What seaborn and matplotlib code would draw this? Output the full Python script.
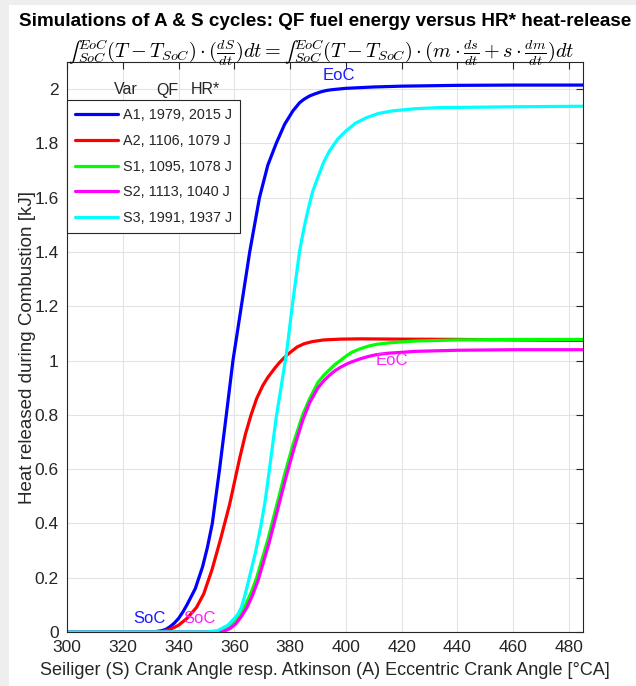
import numpy as np
import pandas as pd
import matplotlib
matplotlib.use("Agg")
import matplotlib.pyplot as plt
from matplotlib.patches import Rectangle
import seaborn as sns

# ---------------- data ----------------
series_names = ["A1, 1979, 2015 J", "A2, 1106, 1079 J", "S1, 1095, 1078 J",
                "S2, 1113, 1040 J", "S3, 1991, 1937 J"]
series_colors = ["#0000ff", "#ff0000", "#00ff00", "#ff00ff", "#00ffff"]

x_a1 = [300, 330, 331.5, 334, 335.5, 337, 338.5, 340, 341.5, 343, 344.5, 346, 347.3, 348.6,
        350.3, 352.1, 354.7, 357, 359.5, 362.5, 365.5, 369, 372, 375, 378, 381, 383.4, 385,
        387, 389, 391, 393, 395, 400, 410, 420, 440, 460, 485]
y_a1 = [0, 0, 0.001, 0.005, 0.01, 0.02, 0.033, 0.05, 0.073, 0.1, 0.13, 0.16, 0.2, 0.24,
        0.31, 0.4, 0.6, 0.79, 1.0, 1.2, 1.4, 1.6, 1.72, 1.8, 1.87, 1.92, 1.95, 1.963,
        1.975, 1.983, 1.99, 1.995, 1.998, 2.003, 2.008, 2.011, 2.014, 2.015, 2.015]

x_a2 = [300, 332, 334, 337, 338.5, 340, 343, 346.4, 349, 352, 355, 358.3, 361.9, 364, 366,
        368, 370.2, 372, 374.5, 376.2, 378.6, 380.5, 382.5, 385, 388, 392, 398, 405, 420,
        440, 460, 485]
y_a2 = [0, 0, 0.002, 0.01, 0.017, 0.025, 0.05, 0.09, 0.14, 0.23, 0.34, 0.47, 0.64, 0.73, 0.8,
        0.86, 0.908, 0.938, 0.972, 0.993, 1.018, 1.034, 1.05, 1.062, 1.07, 1.076, 1.079, 1.08,
        1.079, 1.078, 1.076, 1.074]

x_s1 = [300, 352, 356, 358, 360, 362, 364, 366, 368, 372, 375, 378, 381, 384.5, 387, 390,
        392, 394, 396, 398, 400, 402, 405, 408, 411, 415, 425, 440, 460, 485]
y_s1 = [0, 0, 0.005, 0.015, 0.035, 0.062, 0.1, 0.145, 0.2, 0.34, 0.46, 0.58, 0.69, 0.8,
        0.86, 0.92, 0.945, 0.965, 0.985, 1.0, 1.016, 1.03, 1.043, 1.053, 1.06, 1.065, 1.072,
        1.076, 1.078, 1.078]

x_s2 = [300, 352.5, 356.5, 358.5, 360.5, 362.5, 364.5, 366.5, 368.5, 372.5, 375.5, 378.5,
        381.5, 384.5, 387, 390, 392, 394, 396, 398, 400, 402, 405, 408, 411, 415, 425, 440,
        460, 485]
y_s2 = [0, 0, 0.004, 0.013, 0.03, 0.057, 0.09, 0.135, 0.19, 0.33, 0.45, 0.57, 0.68, 0.78,
        0.845, 0.9, 0.925, 0.945, 0.962, 0.975, 0.986, 0.995, 1.006, 1.015, 1.022, 1.027,
        1.034, 1.038, 1.04, 1.04]

x_s3 = [300, 350, 354, 357.7, 360, 361.3, 362.5, 363.8, 365, 366.3, 367.5, 369.5, 371, 372.2,
        375, 378.6, 381, 383.4, 385, 386.3, 388, 389.9, 392, 394.1, 397, 400, 403.5, 407.2,
        411.5, 416.7, 425, 433.5, 460, 485]
y_s3 = [0, 0, 0.005, 0.025, 0.05, 0.066, 0.09, 0.135, 0.185, 0.24, 0.29, 0.39, 0.48, 0.57,
        0.79, 1.02, 1.22, 1.404, 1.49, 1.55, 1.62, 1.674, 1.73, 1.772, 1.815, 1.846, 1.875,
        1.894, 1.91, 1.92, 1.928, 1.932, 1.935, 1.937]

x_ticks = [300, 320, 340, 360, 380, 400, 420, 440, 460, 480]
y_ticks = [0, 0.2, 0.4, 0.6, 0.8, 1, 1.2, 1.4, 1.6, 1.8, 2]
y_ticklabels = ["0", "0.2", "0.4", "0.6", "0.8", "1", "1.2", "1.4", "1.6", "1.8", "2"]

xs = [x_a1, x_a2, x_s1, x_s2, x_s3]
ys = [y_a1, y_a2, y_s1, y_s2, y_s3]
df = pd.concat([pd.DataFrame({"x": x, "y": y, "var": n})
                for x, y, n in zip(xs, ys, series_names)], ignore_index=True)

# ---------------- style ----------------
sns.set_style("whitegrid")
plt.rcParams['font.family'] = ['Liberation Sans', 'DejaVu Sans']
plt.rcParams['mathtext.fontset'] = 'cm'

W, H = 636, 686
fig = plt.figure(figsize=(W / 100, H / 100), dpi=100)
fig.patch.set_facecolor("#eeeeee")
fig.patches.append(Rectangle((9 / W, 0), 1, 1 - 5 / H, transform=fig.transFigure,
                             facecolor="white", edgecolor="none", zorder=-10))
ax_l, ax_r, ax_t, ax_b = 67, 583, 62, 632
ax = fig.add_axes([ax_l / W, 1 - ax_b / H, (ax_r - ax_l) / W, (ax_b - ax_t) / H])

sns.lineplot(data=df, x="x", y="y", hue="var", palette=series_colors,
             linewidth=2.3, ax=ax, estimator=None, sort=False, legend=True)

ax.set_xlim(300, 485)
ax.set_ylim(0, 2.1)
ax.set_xticks(x_ticks)
ax.set_yticks(y_ticks)
ax.set_yticklabels(y_ticklabels)
ax.grid(True, color="#e3e3e3", linewidth=0.8)
for s in ax.spines.values():
    s.set_color("#262626")
    s.set_linewidth(0.8)
ax.tick_params(direction="in", top=True, right=True, length=5, width=0.8,
               color="#262626", labelsize=12.5, labelcolor="#262626", pad=6)
ax.set_xlabel("Seiliger (S) Crank Angle resp. Atkinson (A) Eccentric Crank Angle [°CA]",
              fontsize=13, color="#262626", labelpad=5)
ax.set_ylabel("Heat released during Combustion [kJ]", fontsize=13.5, color="#262626",
              labelpad=-1)

leg = ax.legend(loc="upper left", bbox_to_anchor=(0, (ax_b - 100) / (ax_b - ax_t)),
                borderaxespad=0, fontsize=10.4, handlelength=3.0, handletextpad=0.3,
                labelspacing=0.82, frameon=True, fancybox=False, framealpha=1,
                edgecolor="#262626", borderpad=0.55)
leg.get_frame().set_linewidth(0.8)
for h in leg.get_lines():
    h.set_linewidth(2.3)

hy = (ax_b - 90) / (ax_b - ax_t)
for lbl, px in [("Var", 126), ("QF", 167), ("HR*", 205)]:
    ax.text((px - ax_l) / (ax_r - ax_l), hy, lbl, transform=ax.transAxes,
            fontsize=11.5, color="#262626", ha="center", va="center")

# annotations
ax.text(397.5, 2.05, "EoC", color="#1a1aff", fontsize=12, ha="center", va="center")
ax.text(416.5, 1.0, "EoC", color="#ff22ff", fontsize=12, ha="center", va="center")
ax.text(329.5, 0.05, "SoC", color="#1a1aff", fontsize=12, ha="center", va="center")
ax.text(347.5, 0.05, "SoC", color="#ff22ff", fontsize=12, ha="center", va="center")

cx = (ax_l + ax_r) / 2 / W
fig.text(cx, 1 - 21 / H, "Simulations of A & S cycles: QF fuel energy versus HR* heat-release",
         fontsize=13.6, fontweight="bold", ha="center", va="center", color="black")
fig.text(68 / W, 1 - 48 / H,
         r"$∫_{SoC}^{EoC}(T-T_{SoC})\cdot(\frac{dS}{dt})dt=∫_{SoC}^{EoC}(T-T_{SoC})\cdot(m\cdot\frac{ds}{dt}+s\cdot\frac{dm}{dt})dt$",
         fontsize=14.6, ha="left", va="center_baseline", color="black")

fig.savefig("out.png", dpi=100)
